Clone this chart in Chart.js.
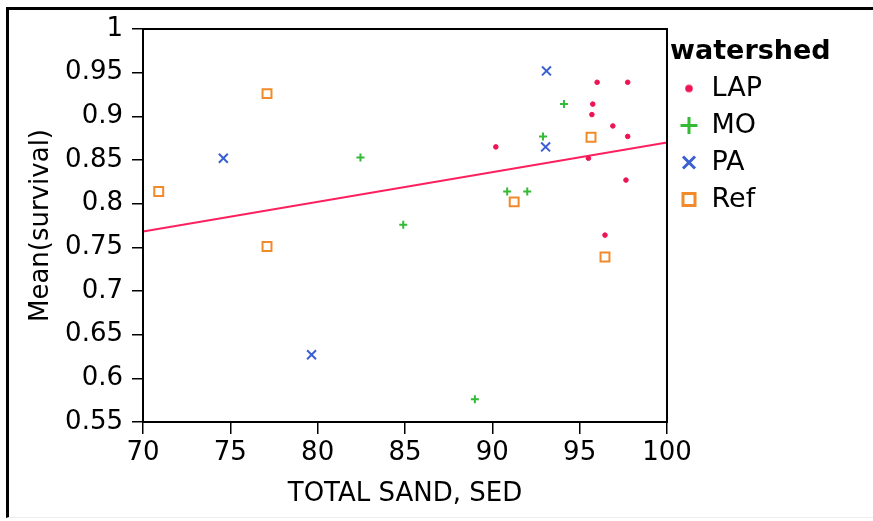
<!DOCTYPE html>
<html>
<head>
<meta charset="utf-8">
<script src="https://cdn.jsdelivr.net/npm/chart.js@4.4.1/dist/chart.umd.min.js"></script>
<style>
  body { margin: 0; background: #fff; }
  #wrap { position: relative; width: 873px; height: 521px; }
  #frame {
    position: absolute; left: 6px; top: 7px; right: 0; bottom: 3px;
    border-top: 3px solid #000; border-left: 3px solid #000;
    border-bottom: 1px solid #eee;
    pointer-events: none;
  }
</style>
</head>
<body>
<div id="wrap">
  <canvas id="survivalChart" width="873" height="521"></canvas>
  <div id="frame"></div>
</div>
<script>
// watershed groups
const groups = ["LAP", "MO", "PA", "Ref"];

// TOTAL SAND, SED (x) and Mean(survival) (y) for each group
const lapX = [90.2, 95.5, 95.75, 95.7, 96.0, 96.45, 96.9, 97.65, 97.75, 97.75];
const lapY = [0.865, 0.852, 0.914, 0.902, 0.939, 0.764, 0.889, 0.827, 0.877, 0.939];
const moX = [82.45, 84.9, 89.0, 90.85, 92.0, 92.9, 94.1];
const moY = [0.853, 0.776, 0.576, 0.814, 0.814, 0.877, 0.914];
const paX = [74.6, 79.65, 93.05, 93.1];
const paY = [0.852, 0.627, 0.865, 0.952];
const refX = [70.9, 77.1, 77.1, 91.25, 95.65, 96.45];
const refY = [0.814, 0.926, 0.751, 0.802, 0.876, 0.739];

// fitted line (end points)
const fitX = [70, 100];
const fitY = [0.768, 0.870];

// tick labels
const xTicks = [70, 75, 80, 85, 90, 95, 100];
const yTicks = [0.55, 0.6, 0.65, 0.7, 0.75, 0.8, 0.85, 0.9, 0.95, 1];

const FONT = "'DejaVu Sans', sans-serif";
const lapColor = "#EE1454";
const moColor = "#34BA34";
const paColor = "#3A60D2";
const refColor = "#F08A2A";

function pairs(xs, ys) {
  return xs.map((x, i) => ({ x: x, y: ys[i] }));
}

// small dot used in the legend for LAP
const dot = document.createElement("canvas");
dot.width = 10;
dot.height = 10;
const dctx = dot.getContext("2d");
dctx.fillStyle = lapColor;
dctx.beginPath();
dctx.arc(5, 5, 3.8, 0, Math.PI * 2);
dctx.fill();

// box around the plot area
const plotFrame = {
  id: "plotFrame",
  afterDraw(chart) {
    const { ctx, chartArea: a } = chart;
    ctx.save();
    ctx.strokeStyle = "#000";
    ctx.lineWidth = 2;
    ctx.strokeRect(a.left, a.top, a.right - a.left, a.bottom - a.top);
    ctx.restore();
  },
};

// fixed width for the legend column so the title is not clipped,
// and a small gap between the plot box and the legend
const legendWidth = {
  id: "legendWidth",
  beforeLayout(chart) {
    const lg = chart.legend;
    if (lg && !lg._fixed) {
      const fit = lg.fit.bind(lg);
      lg.fit = function () {
        fit();
        this.width = 206;
      };
      lg._fixed = true;
    }
  },
  afterLayout(chart) {
    if (chart.legend) chart.legend.left += 3;
  },
};

const data = {
  datasets: [
    {
      label: groups[0],
      data: pairs(lapX, lapY),
      pointStyle: "circle",
      pointRadius: 2.3,
      pointBorderWidth: 1,
      backgroundColor: lapColor,
      borderColor: lapColor,
    },
    {
      label: groups[1],
      data: pairs(moX, moY),
      pointStyle: "cross",
      pointRadius: 4,
      pointBorderWidth: 2,
      backgroundColor: moColor,
      borderColor: moColor,
    },
    {
      label: groups[2],
      data: pairs(paX, paY),
      pointStyle: "crossRot",
      pointRadius: 6.3,
      pointBorderWidth: 2,
      backgroundColor: paColor,
      borderColor: paColor,
    },
    {
      label: groups[3],
      data: pairs(refX, refY),
      pointStyle: "rect",
      pointRadius: 6.3,
      pointBorderWidth: 2,
      backgroundColor: "#fff",
      borderColor: refColor,
    },
    {
      label: "fit",
      type: "line",
      data: pairs(fitX, fitY),
      borderColor: "#FF1E5E",
      borderWidth: 2,
      pointRadius: 0,
      fill: false,
      order: 5,
    },
  ],
};

const config = {
  type: "scatter",
  data: data,
  plugins: [plotFrame, legendWidth],
  options: {
    responsive: false,
    animation: false,
    events: [],
    layout: { padding: { top: 29, left: 0, right: 0, bottom: 0 } },
    scales: {
      x: {
        type: "linear",
        min: 70,
        max: 100,
        afterFit: (s) => { s.height = 99; },
        afterBuildTicks: (s) => { s.ticks = xTicks.map((v) => ({ value: v })); },
        grid: { display: true, drawOnChartArea: false, color: "#000", lineWidth: 1.5, tickLength: 12 },
        border: { display: true, color: "#000", width: 2 },
        ticks: {
          color: "#000",
          font: { family: FONT, size: 26 },
          padding: 4,
          maxRotation: 0,
          autoSkip: false,
          callback: (v) => String(v),
        },
        title: {
          display: true,
          text: "TOTAL SAND, SED",
          color: "#000",
          font: { family: FONT, size: 26, lineHeight: 1 },
          padding: { top: 0, bottom: 14 },
        },
      },
      y: {
        type: "linear",
        min: 0.55,
        max: 1,
        afterFit: (s) => { s.width = 143; },
        afterBuildTicks: (s) => { s.ticks = yTicks.map((v) => ({ value: v })); },
        grid: { display: true, drawOnChartArea: false, color: "#000", lineWidth: 1.5, tickLength: 11 },
        border: { display: true, color: "#000", width: 2 },
        ticks: {
          color: "#000",
          font: { family: FONT, size: 26 },
          padding: 9,
          autoSkip: false,
          callback: (v) => String(v),
        },
        title: {
          display: true,
          text: "Mean(survival)",
          color: "#000",
          font: { family: FONT, size: 26, lineHeight: 1 },
          padding: { top: 28, bottom: 0 },
        },
      },
    },
    plugins: {
      tooltip: { enabled: false },
      legend: {
        display: true,
        position: "right",
        align: "start",
        title: {
          display: true,
          text: "watershed",
          position: "start",
          color: "#000",
          font: { family: FONT, size: 27, weight: "bold", lineHeight: 1 },
          padding: { top: 9, bottom: 0 },
        },
        labels: {
          usePointStyle: true,
          boxWidth: 18,
          boxHeight: 12,
          padding: 10,
          color: "#000",
          font: { family: FONT, size: 27 },
          generateLabels: (chart) =>
            Chart.defaults.plugins.legend.labels
              .generateLabels(chart)
              .filter((item) => item.datasetIndex < 4)
              .map((item) => {
                if (item.datasetIndex === 0) item.pointStyle = dot;
                item.lineWidth = 3;
                return item;
              }),
        },
      },
    },
  },
};

const ctx = document.getElementById("survivalChart").getContext("2d");
const survivalChart = new Chart(ctx, config);
</script>
</body>
</html>
